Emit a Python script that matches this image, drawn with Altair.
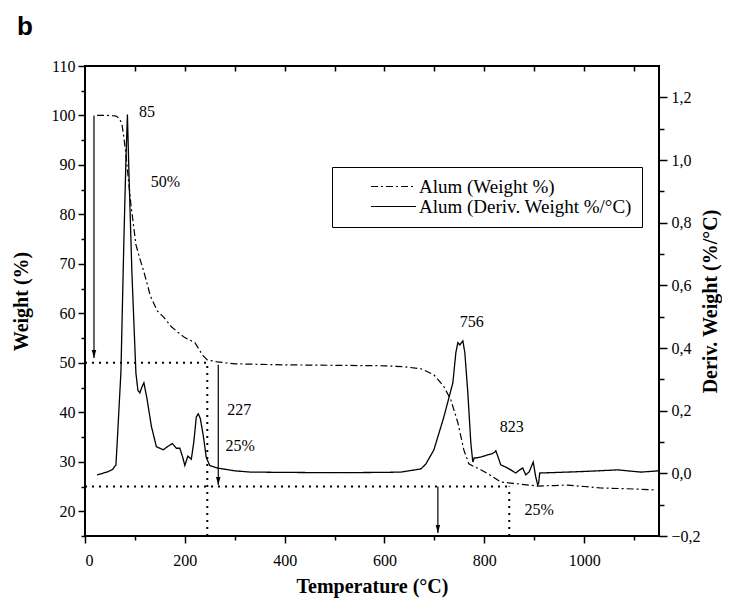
import altair as alt
import pandas as pd

# ---- data ----
weight_T = [24, 45, 60, 64, 70, 74, 78, 82, 92, 102, 110, 118, 131, 145, 158, 173, 186, 200, 212, 220,
            228, 236, 245, 265, 300, 400, 500, 600, 640, 673, 699, 719, 733, 747, 759, 769, 780, 793,
            815, 833, 853, 880, 907, 940, 967, 1000, 1034, 1070, 1100, 1145]
weight_w = [100, 100, 99.9, 99.8, 99.2, 98.2, 95.5, 92.1, 82.0, 73.9, 71.0, 68.4, 63.5, 60.5, 59.2,
            57.3, 56.2, 55.1, 54.5, 54.1, 52.8, 51.5, 50.6, 50.2, 49.8, 49.6, 49.5, 49.4, 49.2, 48.8,
            47.6, 45.2, 42.5, 37.9, 32.4, 29.6, 29.0, 28.4, 27.1, 25.9, 25.7, 25.4, 25.1, 25.2, 25.3,
            25.0, 24.7, 24.6, 24.5, 24.3]

deriv_T = [24, 44, 55, 62, 65, 72, 78, 82, 85, 88, 94, 102, 106, 110, 114, 118, 124, 133, 143, 157,
           165, 175, 183, 190, 196, 200, 206, 213, 218, 223, 227, 231, 237, 243, 250, 265, 300, 331,
           400, 500, 600, 633, 673, 683, 699, 719, 737, 743, 747, 751, 757, 761, 767, 773, 777, 780,
           783, 793, 805, 815, 821, 823, 827, 833, 843, 853, 863, 870, 877, 883, 890, 898, 903, 907,
           909, 911, 930, 967, 1000, 1068, 1100, 1114, 1150]
deriv_v = [-0.005, 0.004, 0.012, 0.027, 0.113, 0.324, 0.75, 1.0, 1.145, 0.96, 0.64, 0.32, 0.265,
           0.257, 0.275, 0.289, 0.24, 0.15, 0.085, 0.075, 0.085, 0.095, 0.08, 0.08, 0.05, 0.025,
           0.055, 0.045, 0.1, 0.18, 0.19, 0.175, 0.12, 0.05, 0.025, 0.017, 0.008, 0.004, 0.003, 0.002,
           0.003, 0.004, 0.014, 0.03, 0.075, 0.18, 0.289, 0.385, 0.417, 0.41, 0.423, 0.385, 0.257,
           0.097, 0.036, 0.05, 0.049, 0.052, 0.058, 0.062, 0.068, 0.072, 0.055, 0.027, 0.02, 0.011,
           0.001, 0.01, 0.017, -0.005, 0.005, 0.036, -0.011, -0.037, -0.03, 0.001, 0.002, 0.004,
           0.006, 0.011, 0.006, 0.004, 0.008]

W_LABEL = "Alum (Weight %)"
D_LABEL = "Alum (Deriv. Weight %/°C)"

# dotted guide lines (weight units)
guide_T = [0, 245, 0, 850]
guide_T2 = [245, 245, 850, 850]
guide_w = [50, 15, 25, 15]
guide_w2 = [50, 50, 25, 25]

# arrows (weight units): start -> tip
arrow_T = [18, 267, 707]
arrow_from = [100, 49.6, 25]
arrow_to = [51, 25.3, 15.6]

# annotations
note_text = ["85", "50%", "756", "227", "25%", "823", "25%"]
note_T = [124, 161, 775, 309, 311, 855, 910]
note_w = [100.8, 86.5, 58.3, 40.5, 33.2, 37.1, 20.3]

wdf = pd.DataFrame({"T": weight_T, "v": weight_w, "series": W_LABEL})
ddf = pd.DataFrame({"T": deriv_T, "v": deriv_v, "series": D_LABEL})
gdf = pd.DataFrame({"T": guide_T, "T2": guide_T2, "w": guide_w, "w2": guide_w2})
adf = pd.DataFrame({"T": arrow_T, "w": arrow_from, "w2": arrow_to})
ndf = pd.DataFrame({"T": note_T, "w": note_w, "t": note_text})

SERIF = "Liberation Serif"
xs = alt.Scale(domain=[0, 1150], nice=False, zero=False)
yw = alt.Scale(domain=[15, 110], nice=False, zero=False)
yd = alt.Scale(domain=[-0.2, 1.3], nice=False, zero=False)

dash = alt.StrokeDash(
    "series:N",
    scale=alt.Scale(domain=[W_LABEL, D_LABEL], range=[[7, 3, 2, 3], [1, 0]]),
    legend=alt.Legend(
        title=None, orient="none", legendX=247, legendY=101,
        symbolType="stroke", symbolSize=2025, symbolStrokeColor="black",
        symbolStrokeWidth=1.2, labelFont=SERIF, labelFontSize=19, labelColor="black",
        labelOffset=2, symbolOffset=28, padding=10, clipHeight=19, rowPadding=0,
        strokeColor="black", fillColor="white", labelLimit=400,
    ),
)

common_axis = dict(grid=False, domain=False, tickColor="black", tickWidth=1.5,
                   labelFont=SERIF, labelFontSize=16, labelColor="black",
                   titleFont=SERIF, titleFontSize=20, titleFontWeight="bold", titleColor="black")

weight_line = alt.Chart(wdf).mark_line(color="black", strokeWidth=1.2).encode(
    x=alt.X("T:Q", scale=xs, axis=alt.Axis(
        orient="bottom", values=list(range(0, 1001, 200)), format="d", tickSize=7, labelPadding=9,
        title="Temperature (°C)", titleY=50, titleBaseline="middle", **common_axis)),
    y=alt.Y("v:Q", scale=yw, axis=alt.Axis(
        orient="left", values=list(range(20, 111, 10)), tickSize=7, labelPadding=3,
        title="Weight (%)", titleAngle=270, titleX=-64, titleY=235,
        titleAlign="center", titleBaseline="middle", **common_axis)),
    strokeDash=dash,
)

deriv_line = alt.Chart(ddf).mark_line(color="black", strokeWidth=1.3).encode(
    x=alt.X("T:Q", scale=xs, axis=None),
    y=alt.Y("v:Q", scale=yd, axis=alt.Axis(
        orient="right", values=[-0.2, 0, 0.2, 0.4, 0.6, 0.8, 1.0, 1.2], tickSize=8, labelPadding=4,
        labelExpr="replace(format(datum.value, '.1f'), /[.]/, ',')",
        title="Deriv. Weight (%/°C)", titleAngle=270, titleX=51, titleY=235,
        titleAlign="center", titleBaseline="middle", **common_axis)),
    strokeDash=dash,
)

guides = alt.Chart(gdf).mark_rule(color="black", strokeWidth=2, strokeDash=[2, 5]).encode(
    x=alt.X("T:Q", scale=xs, axis=None), x2="T2:Q",
    y=alt.Y("w:Q", scale=yw, axis=None), y2="w2:Q",
)

arrows = alt.Chart(adf).mark_rule(color="black", strokeWidth=1.2).encode(
    x=alt.X("T:Q", scale=xs, axis=None),
    y=alt.Y("w:Q", scale=yw, axis=None), y2="w2:Q",
)

heads = alt.Chart(adf).mark_point(
    shape="M-0.28,-1L0.28,-1L0,0Z", filled=True, color="black", opacity=1, size=256
).encode(
    x=alt.X("T:Q", scale=xs, axis=None),
    y=alt.Y("w2:Q", scale=yw, axis=None),
)

notes = alt.Chart(ndf).mark_text(font=SERIF, fontSize=16, color="black").encode(
    x=alt.X("T:Q", scale=xs, axis=None),
    y=alt.Y("w:Q", scale=yw, axis=None),
    text="t:N",
)

minor_axis = dict(labels=False, domain=False, grid=False, title=None,
                  tickColor="black", tickWidth=1.5)

minor_a = alt.Chart(wdf).mark_point(opacity=0).encode(
    x=alt.X("T:Q", scale=xs, axis=alt.Axis(orient="bottom", values=list(range(100, 1101, 200)),
                                           tickSize=4, **minor_axis)),
    y=alt.Y("v:Q", scale=yw, axis=alt.Axis(orient="left", values=list(range(15, 106, 10)),
                                           tickSize=4, **minor_axis)),
)

minor_b = alt.Chart(ddf).mark_point(opacity=0).encode(
    x=alt.X("T:Q", scale=xs, axis=alt.Axis(orient="top", values=list(range(100, 1101, 100)),
                                           tickSize=5, offset=-5, **minor_axis)),
    y=alt.Y("v:Q", scale=yd, axis=alt.Axis(orient="right",
                                           values=[-0.1, 0.1, 0.3, 0.5, 0.7, 0.9, 1.1],
                                           tickSize=5, **minor_axis)),
)

chart = alt.layer(
    guides, arrows, heads, weight_line, deriv_line, notes, minor_a, minor_b
).resolve_scale(y="independent").resolve_axis(x="independent", y="independent").properties(
    width=574, height=470,
    autosize=alt.AutoSizeParams(type="none"),
    padding={"left": 77, "top": 58, "right": 63, "bottom": 62},
    title=alt.TitleParams(text="b", anchor="start", frame="group", dx=-68, offset=18,
                          font="Liberation Sans", fontSize=26, fontWeight="bold", color="black"),
).configure_view(stroke="black", strokeWidth=2)

chart.save("out.html", embed_options={"renderer": "svg", "actions": False})
